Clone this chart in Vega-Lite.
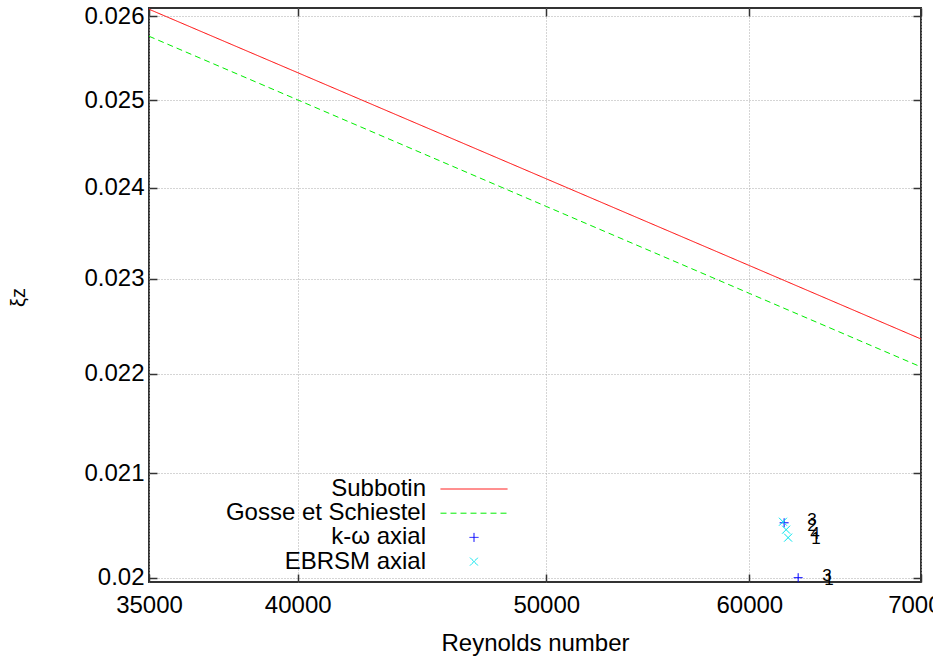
{
  "$schema": "https://vega.github.io/schema/vega-lite/v6.json",
  "width": 772,
  "height": 574,
  "autosize": {"type": "none"},
  "padding": {"left": 149, "top": 8, "right": 12, "bottom": 76},
  "config": {
    "font": "Liberation Sans",
    "view": {"stroke": "#333", "strokeWidth": 2},
    "axis": {
      "domain": false,
      "tickColor": "#333",
      "tickWidth": 1.5,
      "tickSize": -8,
      "labelFontSize": 24,
      "labelColor": "#000",
      "labelFont": "Liberation Sans",
      "gridColor": "#aaa",
      "gridDash": [1, 2],
      "gridWidth": 1,
      "gridOpacity": 1,
      "titleFontSize": 24,
      "titleFontWeight": "normal",
      "titleColor": "#000",
      "titleFont": "Liberation Sans"
    },
    "legend": {
      "orient": "none",
      "legendX": 313,
      "legendY": 469,
      "labelAlign": "right",
      "labelOffset": -60,
      "labelFontSize": 24,
      "labelFont": "Liberation Sans",
      "labelColor": "#000",
      "labelLimit": 400,
      "symbolSize": 100,
      "rowPadding": 0.2,
      "padding": 0,
      "symbolStrokeWidth": 1,
      "symbolOpacity": 1
    }
  },
  "datasets": {
    "lines": [
      {"Re": 35000, "xi": 0.026085, "series": "Subbotin"},
      {"Re": 40000, "xi": 0.025323, "series": "Subbotin"},
      {"Re": 50000, "xi": 0.024098, "series": "Subbotin"},
      {"Re": 60000, "xi": 0.023141, "series": "Subbotin"},
      {"Re": 70000, "xi": 0.02236, "series": "Subbotin"},
      {"Re": 35000, "xi": 0.025758, "series": "Gosse et Schiestel"},
      {"Re": 40000, "xi": 0.025003, "series": "Gosse et Schiestel"},
      {"Re": 50000, "xi": 0.023789, "series": "Gosse et Schiestel"},
      {"Re": 60000, "xi": 0.022842, "series": "Gosse et Schiestel"},
      {"Re": 70000, "xi": 0.02207, "series": "Gosse et Schiestel"}
    ],
    "points": [
      {"Re": 61905, "xi": 0.02052, "series": "k-ω axial"},
      {"Re": 62690, "xi": 0.02000, "series": "k-ω axial"},
      {"Re": 61840, "xi": 0.02053, "series": "EBRSM axial"},
      {"Re": 62016, "xi": 0.020454, "series": "EBRSM axial"},
      {"Re": 62127, "xi": 0.020378, "series": "EBRSM axial"}
    ],
    "labels": [
      {"Re": 63480, "xi": 0.020548, "label": "3"},
      {"Re": 63480, "xi": 0.020491, "label": "2"},
      {"Re": 63650, "xi": 0.020414, "label": "4"},
      {"Re": 63700, "xi": 0.020367, "label": "1"},
      {"Re": 64340, "xi": 0.020019, "label": "3"},
      {"Re": 64450, "xi": 0.019981, "label": "1"}
    ]
  },
  "layer": [
    {
      "data": {"name": "lines"},
      "mark": {"type": "line", "strokeWidth": 1},
      "encoding": {
        "x": {
          "field": "Re", "type": "quantitative",
          "scale": {"type": "log", "domain": [35000, 70000], "nice": false, "zero": false},
          "axis": {"values": [35000, 40000, 50000, 60000, 70000], "format": "d", "grid": true, "title": "Reynolds number", "labelPadding": 19, "labelFlush": false, "titlePadding": 14}
        },
        "y": {
          "field": "xi", "type": "quantitative",
          "scale": {"type": "log", "domain": [0.01996, 0.0261], "nice": false, "zero": false},
          "axis": {"values": [0.02, 0.021, 0.022, 0.023, 0.024, 0.025, 0.026], "format": "~g", "grid": true, "title": "ξz", "titleFontSize": 20, "labelPadding": 13, "titleX": -121, "titleY": 289}
        },
        "color": {
          "field": "series", "type": "nominal",
          "scale": {"domain": ["Subbotin", "Gosse et Schiestel", "k-ω axial", "EBRSM axial"], "range": ["#ff0000", "#00ee00", "#0000ff", "#00e5ee"]},
          "legend": {"title": null}
        },
        "strokeDash": {
          "field": "series", "type": "nominal",
          "scale": {"domain": ["Subbotin", "Gosse et Schiestel", "k-ω axial", "EBRSM axial"], "range": [[1, 0], [6, 4], [1, 0], [1, 0]]},
          "legend": {"title": null}
        }
      }
    },
    {
      "data": {"name": "points"},
      "mark": {"type": "point", "filled": false, "size": 100, "opacity": 1, "strokeWidth": 1},
      "encoding": {
        "x": {
          "field": "Re", "type": "quantitative",
          "scale": {"type": "log", "domain": [35000, 70000], "nice": false, "zero": false},
          "axis": {"orient": "top", "values": [35000, 40000, 50000, 60000, 70000], "labels": false, "grid": false, "title": null}
        },
        "y": {
          "field": "xi", "type": "quantitative",
          "scale": {"type": "log", "domain": [0.01996, 0.0261], "nice": false, "zero": false},
          "axis": {"orient": "right", "values": [0.02, 0.021, 0.022, 0.023, 0.024, 0.025, 0.026], "labels": false, "grid": false, "title": null}
        },
        "color": {
          "field": "series", "type": "nominal",
          "scale": {"domain": ["Subbotin", "Gosse et Schiestel", "k-ω axial", "EBRSM axial"], "range": ["#ff0000", "#00ee00", "#0000ff", "#00e5ee"]},
          "legend": {"title": null}
        },
        "shape": {
          "field": "series", "type": "nominal",
          "scale": {"domain": ["Subbotin", "Gosse et Schiestel", "k-ω axial", "EBRSM axial"], "range": ["M-6.7,0H6.7", "M-6.7,0H6.7", "M-0.9,0H0.9M0,-0.9V0.9", "M-0.8,-0.8L0.8,0.8M-0.8,0.8L0.8,-0.8"]},
          "legend": {"title": null}
        }
      }
    },
    {
      "data": {"name": "labels"},
      "mark": {"type": "text", "fontSize": 17, "color": "#000", "font": "Liberation Sans"},
      "encoding": {
        "x": {"field": "Re", "type": "quantitative", "scale": {"type": "log", "domain": [35000, 70000], "nice": false, "zero": false}, "axis": null},
        "y": {"field": "xi", "type": "quantitative", "scale": {"type": "log", "domain": [0.01996, 0.0261], "nice": false, "zero": false}, "axis": null},
        "text": {"field": "label"}
      }
    }
  ],
  "resolve": {"axis": {"x": "independent", "y": "independent"}}
}
